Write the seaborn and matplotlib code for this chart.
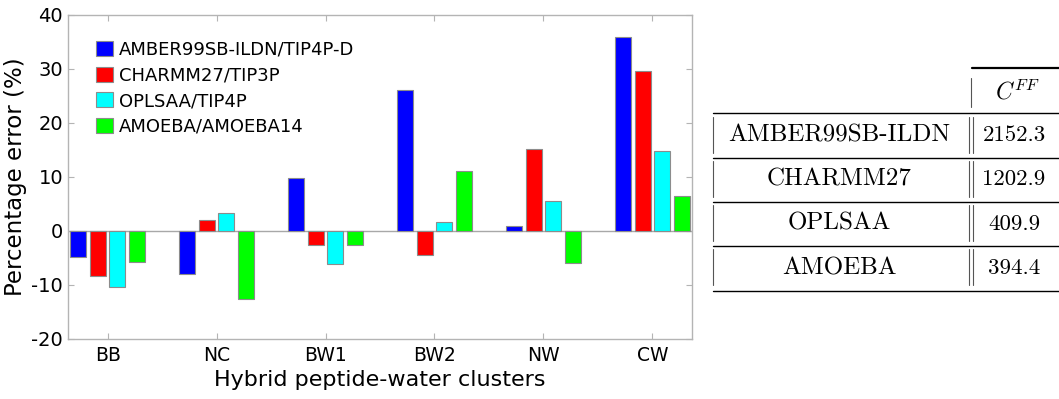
import pandas as pd
import seaborn as sns
import matplotlib.pyplot as plt

# cluster types and force fields
clusters = ['BB', 'NC', 'BW1', 'BW2', 'NW', 'CW']
force_fields = ['AMBER99SB-ILDN/TIP4P-D', 'CHARMM27/TIP3P', 'OPLSAA/TIP4P', 'AMOEBA/AMOEBA14']
colors = ['#0000ff', '#ff0000', '#00ffff', '#00ff00']

# percentage errors per force field
amber = [-4.8, -7.9, 9.9, 26.2, 0.85, 35.9]
charmm = [-8.4, 2.0, -2.5, -4.5, 15.1, 29.6]
oplsaa = [-10.3, 3.3, -6.2, 1.7, 5.5, 14.8]
amoeba = [-5.8, -12.5, -2.5, 11.1, -5.9, 6.5]

# table on the right
table_names = ['AMBER99SB-ILDN', 'CHARMM27', 'OPLSAA', 'AMOEBA']
table_cff = ['2152.3', '1202.9', '409.9', '394.4']

sns.set_style('white')
plt.rcParams['font.family'] = ['DejaVu Sans']
plt.rcParams['mathtext.fontset'] = 'cm'
plt.rcParams['axes.unicode_minus'] = False
plt.rcParams['text.color'] = 'black'
plt.rcParams['axes.labelcolor'] = 'black'
plt.rcParams['xtick.labelcolor'] = 'black'
plt.rcParams['ytick.labelcolor'] = 'black'

rows = []
for ff, vals in zip(force_fields, [amber, charmm, oplsaa, amoeba]):
    for c, v in zip(clusters, vals):
        rows.append({'cluster': c, 'force_field': ff, 'error': v})
df = pd.DataFrame(rows)

W, H = 1059, 399
fig = plt.figure(figsize=(W / 100, H / 100), dpi=100)
ax = fig.add_axes([68 / W, 1 - 339 / H, 624 / W, 324 / H])

sns.barplot(data=df, x='cluster', y='error', hue='force_field', palette=colors,
            saturation=1, width=0.72, gap=0.18, edgecolor='#8c8c8c', linewidth=0.8,
            errorbar=None, ax=ax, zorder=3)

ax.axhline(0, color='#a8a8a8', lw=1.0, zorder=2)
ax.set_xlim(-0.364, 5.364)
ax.set_ylim(-20, 40)
ax.set_yticks(range(-20, 41, 10))

for s in ax.spines.values():
    s.set_color('#b4b4b4')
    s.set_linewidth(1.0)
ax.tick_params(direction='in', length=4, width=0.8, color='#b4b4b4',
               top=True, right=True, bottom=True, left=True)
ax.tick_params(axis='y', labelsize=14, pad=3.5)
ax.tick_params(axis='x', labelsize=13.5, pad=5)

ax.set_xlabel('Hybrid peptide-water clusters', fontsize=16, labelpad=4)
ax.set_ylabel('Percentage error (%)', fontsize=16.5, labelpad=3)

handles, labels = ax.get_legend_handles_labels()
ax.legend(handles, labels, loc='upper left', bbox_to_anchor=(0.045, 0.92),
          frameon=False, fontsize=13, borderpad=0, borderaxespad=0,
          handlelength=0.92, handleheight=0.92, handletextpad=0.36,
          labelspacing=0.42)

# table drawn in pixel coordinates
tx = fig.add_axes([700 / W, 0, 359 / W, 1])
tx.set_xlim(700, W)
tx.set_ylim(H, 0)
tx.axis('off')

row_top = 113.3
row_h = 44.2
x_left, x_dbl1, x_dbl2, x_sep, x_right = 713.3, 969.3, 973.0, 971.3, W

tx.plot([971.7, x_right], [68.3, 68.3], color='black', lw=1.6, clip_on=False)
tx.plot([x_sep, x_sep], [78, 107], color='#555555', lw=0.8)
tx.text(1017.5, 92, r'$C^{FF}$', fontsize=17, ha='center', va='center')

for i, (name, val) in enumerate(zip(table_names, table_cff)):
    y0 = row_top + i * row_h
    y1 = y0 + row_h
    tx.plot([x_left, x_right], [y0, y0], color='black', lw=1.0, clip_on=False)
    tx.plot([x_left, x_left], [y0 + 3.5, y1 - 5], color='#555555', lw=0.8)
    tx.plot([x_dbl1, x_dbl1], [y0 + 3.5, y1 - 5], color='#555555', lw=0.8)
    tx.plot([x_dbl2, x_dbl2], [y0 + 3.5, y1 - 5], color='#555555', lw=0.8)
    yc = (y0 + y1) / 2
    tx.text(839, yc, name, family='cmr10', fontsize=18, ha='center', va='center')
    tx.text(1014, yc, val, family='cmr10', fontsize=16.5, ha='center', va='center')
y_last = row_top + len(table_names) * row_h + 1.1
tx.plot([x_left, x_right], [y_last, y_last], color='black', lw=1.0, clip_on=False)

fig.savefig('out.png', dpi=100)
